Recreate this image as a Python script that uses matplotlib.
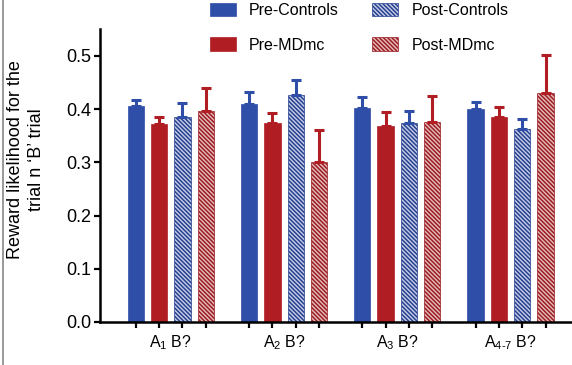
import numpy as np
import matplotlib
matplotlib.use("Agg")
import matplotlib.pyplot as plt
from matplotlib.lines import Line2D

plt.rcParams['font.family'] = ['Liberation Sans', 'DejaVu Sans']
plt.rcParams['mathtext.fontset'] = 'custom'
plt.rcParams['mathtext.rm'] = 'Liberation Sans'
plt.rcParams['hatch.linewidth'] = 1.1

# data
groups = [r'A$_{\mathregular{1}}$ B?', r'A$_{\mathregular{2}}$ B?',
          r'A$_{\mathregular{3}}$ B?', r'A$_{\mathregular{4\text{-}7}}$ B?']
series = ['Pre-Controls', 'Pre-MDmc', 'Post-Controls', 'Post-MDmc']
pre_controls = [0.405, 0.410, 0.403, 0.400]
pre_controls_err = [0.012, 0.022, 0.019, 0.013]
pre_mdmc = [0.372, 0.374, 0.368, 0.385]
pre_mdmc_err = [0.013, 0.018, 0.027, 0.019]
post_controls = [0.385, 0.427, 0.373, 0.363]
post_controls_err = [0.026, 0.028, 0.024, 0.019]
post_mdmc = [0.397, 0.300, 0.375, 0.431]
post_mdmc_err = [0.042, 0.060, 0.050, 0.070]

blue = '#2f4ea8'
red = '#b01e24'
styles = [
    dict(facecolor=blue, edgecolor=blue, hatch=None),
    dict(facecolor=red, edgecolor=red, hatch=None),
    dict(facecolor='#c8cde8', edgecolor='#26418f', hatch='\\' * 8),
    dict(facecolor='#e6bcbc', edgecolor='#9a1d22', hatch='\\' * 8),
]
values = [pre_controls, pre_mdmc, post_controls, post_mdmc]
errors = [pre_controls_err, pre_mdmc_err, post_controls_err, post_mdmc_err]
err_colors = [blue, red, blue, red]

fig = plt.figure(figsize=(5.72, 3.65), dpi=100)
ax = fig.add_axes([100 / 572, 43 / 365, 472 / 572, 292.7 / 365])

group_step = 4.857
base = np.arange(len(groups)) * group_step
width = 0.7
handles = []
for i, name in enumerate(series):
    x = base + i
    st = styles[i]
    b = ax.bar(x, values[i], width, label=name, facecolor=st['facecolor'],
               edgecolor=st['edgecolor'], hatch=st['hatch'], linewidth=0.5,
               zorder=2)
    ax.errorbar(x, values[i], yerr=[np.zeros(len(groups)), errors[i]],
                fmt='none', ecolor=err_colors[i], elinewidth=2.2,
                capsize=3.7, capthick=2.2, zorder=3)
    handles.append(b)

ax.set_xlim(-1.53, -1.53 + 472 / 23.33)
ax.set_ylim(0, 0.55)
ax.set_yticks([0.0, 0.1, 0.2, 0.3, 0.4, 0.5])
ax.set_yticklabels(['0.0', '0.1', '0.2', '0.3', '0.4', '0.5'], fontsize=13)

bar_pos = np.concatenate([base + i for i in range(4)])
ax.set_xticks(np.sort(bar_pos))
ax.set_xticklabels([])
for g, lab in zip(base, groups):
    ax.text(g + 1.5, -0.022, lab, ha='center', va='top', fontsize=11.5,
            transform=ax.transData)

ax.spines['top'].set_visible(False)
ax.spines['right'].set_visible(False)
ax.spines['left'].set_linewidth(1.8)
ax.spines['bottom'].set_linewidth(1.8)
ax.tick_params(axis='both', direction='out', length=4.5, width=1.6, pad=2)

fig.text(26 / 572, 1 - 160 / 365,
         "Reward likelihood for the\ntrial n \u2018B\u2019 trial",
         rotation=90, ha='center', va='center', fontsize=13,
         linespacing=1.35, multialignment='center')

fig.legend(handles=handles, labels=series, ncol=2, frameon=False,
           loc='upper left', bbox_to_anchor=(200 / 572, 1.0 + 7 / 365),
           fontsize=11.5, handlelength=1.65, handleheight=0.95,
           handletextpad=0.8, columnspacing=2.1, labelspacing=1.2,
           borderpad=0.1)

fig.add_artist(Line2D([2.5 / 572, 2.5 / 572], [0, 1], color='#888888',
                      linewidth=1.2, transform=fig.transFigure))

fig.savefig('out.png', dpi=100)
